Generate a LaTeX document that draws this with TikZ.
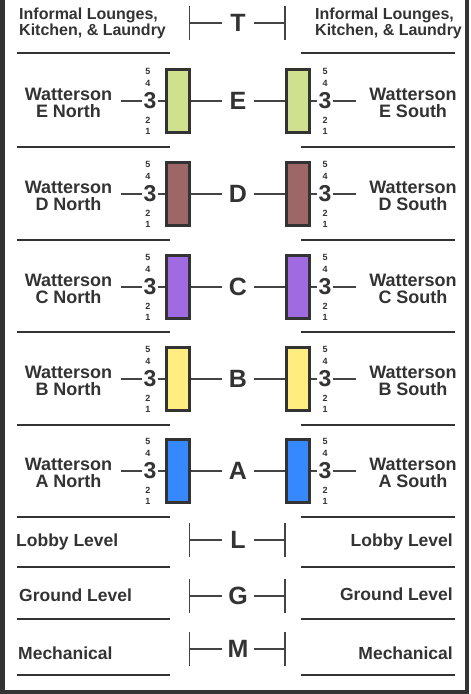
\documentclass[tikz,border=0pt]{standalone}
\usepackage{fontspec}
\setmainfont{Liberation Sans}
\definecolor{ink}{HTML}{333333}
\definecolor{lineg}{HTML}{444444}
\definecolor{colE}{HTML}{CFE08E}
\definecolor{colD}{HTML}{9E6767}
\definecolor{colC}{HTML}{A06AE0}
\definecolor{colB}{HTML}{FFED80}
\definecolor{colA}{HTML}{3688FF}
\begin{document}
\begin{tikzpicture}[x=1pt,y=-1pt,
  every node/.style={text=ink},
  lbl/.style={font=\fontsize{18}{16.5}\selectfont\bfseries, align=center, inner sep=0pt},
  toplbl/.style={font=\fontsize{16}{16.7}\selectfont\bfseries, align=left, inner sep=0pt, anchor=west},
  side/.style={font=\fontsize{17.5}{17.5}\selectfont\bfseries, inner sep=0pt},
  big/.style={font=\fontsize{25}{25}\selectfont\bfseries, minimum width=32pt, inner sep=0pt},
  three/.style={font=\fontsize{23}{23}\selectfont\bfseries, inner sep=1pt},
  tinynum/.style={font=\fontsize{9}{9}\selectfont\bfseries, inner sep=0pt},
  bar/.style={draw=ink, line width=3pt, minimum width=23pt, minimum height=63pt, inner sep=0pt},
  sepline/.style={draw=ink, line width=1.5pt},
  conn/.style={draw=lineg, line width=1.3pt}]
\useasboundingbox (0,0) rectangle (471,694);
\fill[white] (0,0) rectangle (471,694);
% outer frame (left, bottom, right)
\draw[ink, line width=4.5pt] (2.3,0) -- (2.3,691.8) -- (466.8,691.8) -- (466.8,0);

% separators
\foreach \y in {53,147,240,332,425,517,567,619,675}{
  \draw[sepline] (17,\y) -- (170,\y);
  \draw[sepline] (301,\y) -- (455,\y);
}

% top row texts
\node[toplbl] (infl) at (19,23.3) {Informal Lounges,\\Kitchen, \& Laundry};
\node[toplbl] (infr) at (315,23.3) {Informal Lounges,\\Kitchen, \& Laundry};

% building rows
\foreach \L/\y/\c in {E/101/colE, D/194/colD, C/287/colC, B/379/colB, A/471/colA}{
  \node[bar, fill=\c] (bl\L) at (178,\y) {};
  \node[bar, fill=\c] (br\L) at (298,\y) {};
  \node[big] (\L) at (238,\y) {\L};
  \node[three] (tl\L) at (150,\y) {3};
  \node[three] (tr\L) at (325,\y) {3};
  \node[tinynum] (l5\L) at (148,{\y-30}) {5};
  \node[tinynum] (l4\L) at (148,{\y-18}) {4};
  \node[tinynum] (l2\L) at (148,{\y+19}) {2};
  \node[tinynum] (l1\L) at (148,{\y+30}) {1};
  \node[tinynum] (r5\L) at (325,{\y-30}) {5};
  \node[tinynum] (r4\L) at (325,{\y-18}) {4};
  \node[tinynum] (r2\L) at (325,{\y+19}) {2};
  \node[tinynum] (r1\L) at (325,{\y+30}) {1};
  \node[lbl] (nl\L) at (68.5,{\y+2}) {Watterson\\\L\ North};
  \node[lbl] (nr\L) at (413,{\y+2}) {Watterson\\\L\ South};
  \coordinate (al\L) at (121,\y);
  \coordinate (ar\L) at (356,\y);
  \draw[conn] (al\L) -- (tl\L);
  \draw[conn] (tl\L) -- (bl\L);
  \draw[conn] (bl\L) -- (\L);
  \draw[conn] (\L) -- (br\L);
  \draw[conn] (br\L) -- (tr\L);
  \draw[conn] (tr\L) -- (ar\L);
}

% bracket rows
\foreach \L/\y in {T/23, L/540, G/596, M/649}{
  \node[big] (\L) at (238,\y) {\L};
  \coordinate (ql\L) at (189.5,\y);
  \coordinate (qr\L) at (285,\y);
  \draw[conn] (189.5,{\y-17}) -- (189.5,{\y+17});
  \draw[conn] (285,{\y-17}) -- (285,{\y+17});
  \draw[conn] (ql\L) -- (\L);
  \draw[conn] (\L) -- (qr\L);
}

% level labels
\node[side, anchor=base west] (lobl) at (16,546) {Lobby Level};
\node[side, anchor=base east] (lobr) at (453,546) {Lobby Level};
\node[side, anchor=base west] (grl) at (19,601) {Ground Level};
\node[side, anchor=base east] (grr) at (453,600) {Ground Level};
\node[side, anchor=base west] (mel) at (18,659) {Mechanical};
\node[side, anchor=base east] (mer) at (453,659) {Mechanical};
\end{tikzpicture}
\end{document}
